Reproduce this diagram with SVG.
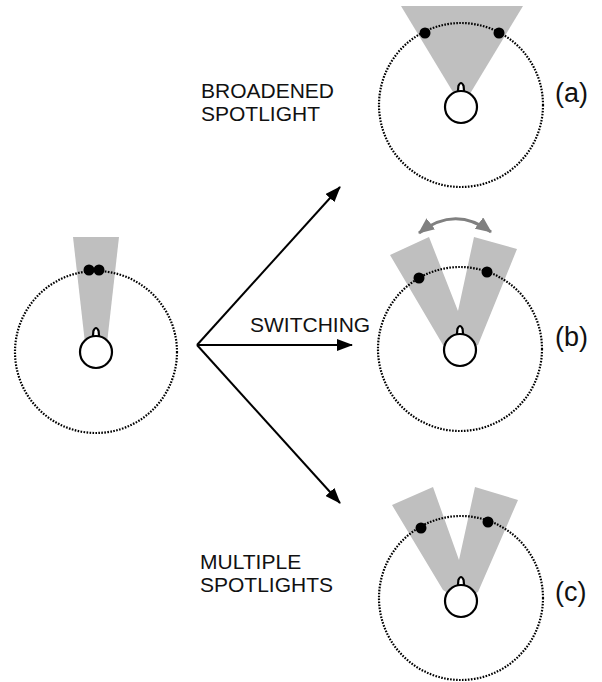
<svg xmlns="http://www.w3.org/2000/svg" width="602" height="682" viewBox="0 0 602 682">
<style>
.beam{fill:#bfbfbf;stroke:none}
.ring{fill:none;stroke:#000;stroke-width:2.2;stroke-dasharray:1.6 1.4}
.head{fill:#fff;stroke:#000;stroke-width:2.2}
.dot{fill:#000}
.lbl{font-family:"Liberation Sans",Arial,sans-serif;font-size:21px;fill:#111}
.tag{font-family:"Liberation Sans",Arial,sans-serif;font-size:27px;fill:#111}
.conn{fill:none;stroke:#000;stroke-width:2}
</style>
<defs>
<marker id="ah" viewBox="0 0 16 12" refX="15" refY="6" markerWidth="16" markerHeight="12" markerUnits="userSpaceOnUse" orient="auto">
<path d="M0,0 L16,6 L0,12 Z" fill="#000"/>
</marker>
<marker id="gh" viewBox="0 0 16 14" refX="15" refY="7" markerWidth="16" markerHeight="14" markerUnits="userSpaceOnUse" orient="auto-start-reverse">
<path d="M0,0 L16,7 L0,14 Z" fill="#808080"/>
</marker>
<g id="headshape">
<path d="M-3.2,-14 L-2.6,-21 Q0,-27 2.6,-21 L3.2,-14 Z" class="head"/>
<circle r="16" class="head"/>
</g>
</defs>

<g id="start">
<polygon class="beam" points="73,237 119,237 106,352 86,352"/>
<circle class="ring" cx="96" cy="352" r="81"/>
<circle class="dot" cx="89" cy="270" r="5.5"/>
<circle class="dot" cx="99" cy="270" r="5.5"/>
<use href="#headshape" x="96" y="352"/>
</g>

<g id="connectors">
<line class="conn" x1="197" y1="345" x2="340" y2="187" marker-end="url(#ah)"/>
<line class="conn" x1="197" y1="345" x2="352" y2="345" marker-end="url(#ah)"/>
<line class="conn" x1="197" y1="345" x2="340" y2="503" marker-end="url(#ah)"/>
</g>

<g id="label-broadened">
<text class="lbl" x="201" y="98">BROADENED</text>
<text class="lbl" x="201" y="121">SPOTLIGHT</text>
</g>
<g id="label-switching">
<text class="lbl" x="250" y="332">SWITCHING</text>
</g>
<g id="label-multiple">
<text class="lbl" x="200" y="569">MULTIPLE</text>
<text class="lbl" x="200" y="592">SPOTLIGHTS</text>
</g>

<g id="fig-a">
<polygon class="beam" points="401,6 523,6 462,107"/>
<circle class="ring" cx="461" cy="105" r="82"/>
<circle class="dot" cx="425" cy="33" r="5.5"/>
<circle class="dot" cx="499" cy="33" r="5.5"/>
<use href="#headshape" x="461" y="107"/>
<text class="tag" x="555" y="102">(a)</text>
</g>

<g id="fig-b">
<path d="M419,233 Q455,205 491,232" fill="none" stroke="#808080" stroke-width="3" marker-start="url(#gh)" marker-end="url(#gh)"/>
<polygon class="beam" points="390,255 429,237 458,311 474,237 517,249 478,345 460,350 443,345"/>
<circle class="ring" cx="460" cy="349" r="82"/>
<circle class="dot" cx="419" cy="278" r="5.5"/>
<circle class="dot" cx="487" cy="272" r="5.5"/>
<use href="#headshape" x="460" y="350"/>
<text class="tag" x="555" y="346">(b)</text>
</g>

<g id="fig-c">
<polygon class="beam" points="392,505 433,487 459,560 475,487 518,500 478,592 461,601 443,590"/>
<circle class="ring" cx="461" cy="598" r="82"/>
<circle class="dot" cx="421" cy="528" r="5.5"/>
<circle class="dot" cx="488" cy="522" r="5.5"/>
<use href="#headshape" x="461" y="601"/>
<text class="tag" x="555" y="601">(c)</text>
</g>
</svg>
